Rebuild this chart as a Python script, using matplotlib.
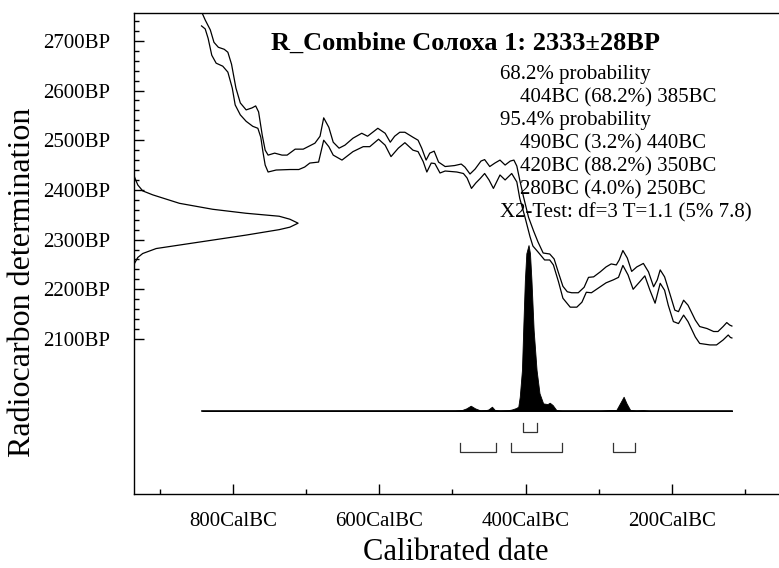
import matplotlib
matplotlib.use('Agg')
import numpy as np
import matplotlib.pyplot as plt
from matplotlib.ticker import FixedLocator

plt.rcParams['font.family'] = ['Liberation Serif', 'DejaVu Serif']

# calibration curve, upper and lower edge (years cal BC, BP)
upper_bc = [844, 838, 831, 826, 820, 812, 807, 802, 796, 790, 782, 774, 769, 765, 760, 756, 752, 743, 733, 726,
            715, 704, 688, 681, 676, 669, 663, 655, 647, 636, 624, 616, 609, 602, 592, 585, 579, 572, 565, 554,
            547, 542, 536, 531, 525, 519, 510, 497, 488, 483, 476, 469, 461, 456, 449, 442, 435, 428, 421, 416,
            412, 408, 403, 396, 389, 383, 376, 367, 361, 355, 349, 343, 337, 328, 320, 314, 307, 298, 290, 283,
            276, 272, 267, 261, 255, 248, 239, 232, 225, 220, 216, 210, 203, 196, 191, 184, 178, 168, 162, 152,
            143, 137, 130, 125, 121, 118]
upper_bp = [2762, 2742, 2722, 2697, 2687, 2683, 2677, 2653, 2605, 2575, 2561, 2565, 2569, 2557, 2510, 2480, 2470, 2474, 2470, 2470,
            2482, 2482, 2494, 2508, 2545, 2526, 2496, 2484, 2490, 2504, 2514, 2508, 2516, 2524, 2514, 2496, 2508, 2516, 2516, 2506,
            2500, 2484, 2460, 2474, 2478, 2456, 2447, 2449, 2452, 2446, 2432, 2442, 2458, 2461, 2447, 2454, 2460, 2450, 2458, 2460,
            2448, 2420, 2387, 2345, 2317, 2295, 2273, 2271, 2261, 2233, 2206, 2195, 2193, 2193, 2204, 2224, 2225, 2235, 2245, 2251,
            2249, 2259, 2278, 2263, 2236, 2245, 2252, 2235, 2205, 2219, 2239, 2225, 2192, 2158, 2155, 2178, 2168, 2138, 2125, 2121,
            2115, 2115, 2125, 2133, 2128, 2126]
lower_bc = [843, 838, 834, 829, 823, 814, 807, 801, 797, 790, 782, 773, 766, 762, 759, 756, 752, 741, 722, 710,
            702, 695, 683, 676, 669, 663, 651, 636, 622, 613, 601, 592, 584, 574, 565, 554, 547, 540, 535, 529,
            524, 517, 510, 494, 485, 480, 474, 468, 462, 456, 450, 444, 435, 428, 419, 412, 408, 401, 394, 390,
            383, 374, 367, 362, 355, 349, 339, 330, 323, 317, 310, 301, 290, 280, 273, 267, 260, 253, 244, 237,
            230, 223, 216, 210, 205, 198, 191, 184, 178, 168, 162, 148, 139, 130, 123, 120, 118]
lower_bp = [2730, 2724, 2705, 2671, 2655, 2649, 2637, 2605, 2571, 2551, 2538, 2528, 2524, 2506, 2476, 2450, 2436, 2440, 2441, 2441,
            2446, 2454, 2456, 2500, 2487, 2470, 2460, 2477, 2487, 2487, 2502, 2490, 2467, 2484, 2495, 2480, 2477, 2457, 2436, 2454,
            2453, 2434, 2438, 2436, 2433, 2424, 2403, 2414, 2423, 2433, 2420, 2403, 2430, 2420, 2433, 2416, 2383, 2346, 2306, 2287,
            2275, 2259, 2259, 2249, 2215, 2182, 2164, 2164, 2174, 2194, 2193, 2202, 2213, 2219, 2224, 2248, 2229, 2200, 2215, 2227,
            2198, 2172, 2212, 2198, 2168, 2135, 2131, 2148, 2135, 2104, 2091, 2088, 2088, 2098, 2108, 2103, 2102]

# measurement 2333+-28 BP, relative density along the y axis
meas_bp = [2440, 2426, 2410, 2398, 2390, 2373, 2361, 2353, 2347, 2341, 2333,
           2325, 2320, 2309, 2299, 2289, 2282, 2272, 2264, 2252, 2239]
meas_d = [0, 0.006, 0.026, 0.056, 0.117, 0.279, 0.481, 0.683, 0.885, 0.95, 1.0,
          0.95, 0.885, 0.683, 0.481, 0.279, 0.138, 0.056, 0.026, 0.006, 0]

# calibrated distribution (relative probability)
post_bc = [842, 531, 497, 487, 481, 475, 469, 462, 454, 451, 446, 442, 435, 424, 419, 413, 410, 408, 405, 403,
           401, 399, 396, 394, 392, 389, 385, 381, 376, 370, 367, 363, 358, 350, 298, 285, 276, 271, 266, 262,
           257, 249, 239, 230, 118]
post_p = [0, 0.002, 0.003, 0.006, 0.016, 0.032, 0.016, 0.004, 0.006, 0.009, 0.026, 0.006, 0.003, 0.005, 0.009, 0.018, 0.026, 0.086, 0.247, 0.528,
          0.789, 0.95, 1.0, 0.95, 0.789, 0.488, 0.247, 0.107, 0.046, 0.042, 0.05, 0.036, 0.006, 0.002, 0.002, 0.006, 0.006, 0.046, 0.086, 0.046,
          0.006, 0.003, 0.005, 0, 0]

ranges_68 = [(404, 385)]
ranges_95 = [(490, 440), (420, 350), (280, 250)]

title = 'R_Combine Солоха 1: 2333±28BP'
info_lines = ['68.2% probability', '404BC (68.2%) 385BC', '95.4% probability',
              '490BC (3.2%) 440BC', '420BC (88.2%) 350BC', '280BC (4.0%) 250BC',
              'X2-Test: df=3 T=1.1 (5% 7.8)']
info_indent = [0, 1, 0, 1, 1, 1, 0]

yticks_major = [2100, 2200, 2300, 2400, 2500, 2600, 2700]
xticks_major = [800, 600, 400, 200]
xticks_minor = [900, 700, 500, 300, 100]

W, H = 779, 568
fig = plt.figure(figsize=(W / 100, H / 100), dpi=100)
ax = fig.add_axes([133.5 / W, 1 - 494 / H, 1 - 133.5 / W, (494 - 13) / H])

x_left, x_right = 936, 53.6
ax.set_xlim(x_left, x_right)
ax.set_ylim(1788, 2756)

lw = 0.9
ax.plot(upper_bc, upper_bp, color='black', lw=lw)
ax.plot(lower_bc, lower_bp, color='black', lw=lw)

# measurement curve on the y axis
meas_w = 225
ax.plot(x_left - np.array(meas_d) * meas_w, meas_bp, color='black', lw=lw)

# calibrated distribution
base, scale = 1955, 334
ax.fill_between(post_bc, base, base + np.array(post_p) * scale, color='black', lw=0.6)
ax.plot([post_bc[0], post_bc[-1]], [base, base], color='black', lw=1.2)

# range brackets
for (a, b) in ranges_68:
    ax.plot([a, a, b, b], [1931, 1913, 1913, 1931], color='#333333', lw=0.9)
for (a, b) in ranges_95:
    ax.plot([a, a, b, b], [1890, 1872, 1872, 1890], color='#333333', lw=0.9)

ax.spines['right'].set_visible(False)
for s in ['left', 'top', 'bottom']:
    ax.spines[s].set_linewidth(1.0)

ax.yaxis.set_major_locator(FixedLocator(yticks_major))
ax.yaxis.set_minor_locator(FixedLocator(list(range(2100, 2741, 20))))
ax.set_yticklabels(['%dBP' % v for v in yticks_major])
ax.xaxis.set_major_locator(FixedLocator(xticks_major))
ax.xaxis.set_minor_locator(FixedLocator(xticks_minor))
ax.set_xticklabels(['%dCalBC' % v for v in xticks_major])

ax.tick_params(axis='both', which='major', direction='in', length=7.5, width=1.0, labelsize=15)
ax.tick_params(axis='both', which='minor', direction='in', length=3.8, width=1.0)
ax.tick_params(axis='y', which='major', pad=17)
ax.tick_params(axis='x', which='major', pad=13)
ax.tick_params(top=False, right=False, which='both')

fig.text(466 / W, 1 - 43 / H, title, fontsize=19, fontweight='bold', ha='center', va='center')
line_h = 23
for i, (t, ind) in enumerate(zip(info_lines, info_indent)):
    fig.text((500 + 20 * ind) / W, 1 - (75 + i * line_h) / H, t, fontsize=15, ha='left', va='center')

fig.text(23 / W, 1 - 282 / H, 'Radiocarbon determination', fontsize=23, rotation=90, ha='center', va='center')
fig.text(456 / W, 1 - 552 / H, 'Calibrated date', fontsize=22, ha='center', va='center')

fig.savefig('out.png', dpi=100)
